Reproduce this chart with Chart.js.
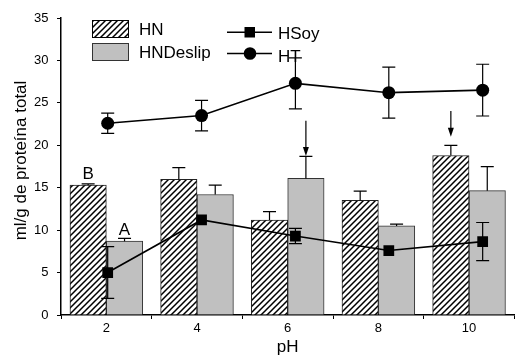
<!DOCTYPE html>
<html><head><meta charset="utf-8">
<script src="https://cdn.jsdelivr.net/npm/chart.js@4/dist/chart.umd.min.js"></script>
<style>html,body{margin:0;padding:0;background:#fff}#wrap{width:522px;height:358px}</style>
</head><body><div id="wrap"><canvas id="c" width="522" height="358"></canvas></div>
<script>
// ---- data ----
const categories = ['2', '4', '6', '8', '10'];
const hnValues = [15.3, 16.0, 11.2, 13.5, 18.8];
const hnErrors = [0.15, 1.37, 0.98, 1.1, 1.18];
const hnDeslipValues = [8.7, 14.2, 16.1, 10.5, 14.65];
const hnDeslipErrors = [0.32, 1.1, 2.6, 0.2, 2.83];
const linePositions = [2.03, 4.1, 6.17, 8.23, 10.3];
const hSoyValues = [5.0, 11.2, 9.3, 7.6, 8.65];
const hSoyErrors = [3.05, 0, 0.9, 0, 2.25];
const htValues = [22.6, 23.5, 27.3, 26.2, 26.5];
const htErrors = [1.2, 1.8, 3.0, 3.0, 3.05];
const yMin = 0, yMax = 35, yStep = 5;
const barLetters = [{series: 'HN', index: 0, text: 'B'}, {series: 'HNDeslip', index: 0, text: 'A'}];
const arrows = [{series: 'HNDeslip', index: 2, from: 22.9, to: 18.75}, {series: 'HN', index: 4, from: 24.05, to: 21.0}];

const FONT = "'Liberation Sans', Arial, sans-serif";

function makeHatch() {
  const c = document.createElement('canvas');
  c.width = 6; c.height = 6;
  const g = c.getContext('2d');
  g.fillStyle = '#fff'; g.fillRect(0, 0, 6, 6);
  g.strokeStyle = '#000'; g.lineWidth = 1.5;
  g.beginPath();
  g.moveTo(-1, 7); g.lineTo(7, -1);
  g.moveTo(-1, 1); g.lineTo(1, -1);
  g.moveTo(5, 7); g.lineTo(7, 5);
  g.stroke();
  return g.createPattern(c, 'repeat');
}
const hatch = makeHatch();

const overlay = {
  id: 'overlay',
  afterDatasetsDraw(chart) {
    const ctx = chart.ctx;
    const y = chart.scales.y;
    const byLabel = {};
    chart.data.datasets.forEach((d, i) => byLabel[d.label] = chart.getDatasetMeta(i));
    const errMap = {HN: hnErrors, HNDeslip: hnDeslipErrors, HSoy: hSoyErrors, HT: htErrors};
    const valMap = {HN: hnValues, HNDeslip: hnDeslipValues, HSoy: hSoyValues, HT: htValues};
    ctx.save();
    ctx.strokeStyle = '#000';
    ctx.fillStyle = '#000';
    ctx.lineWidth = 1.2;
    const cap = 6.5;
    ['HN', 'HNDeslip'].forEach(s => {
      byLabel[s].data.forEach((el, i) => {
        const top = y.getPixelForValue(valMap[s][i] + errMap[s][i]);
        ctx.beginPath();
        ctx.moveTo(el.x, el.y); ctx.lineTo(el.x, top);
        ctx.moveTo(el.x - cap, top); ctx.lineTo(el.x + cap, top);
        ctx.stroke();
      });
    });
    ['HSoy', 'HT'].forEach(s => {
      byLabel[s].data.forEach((el, i) => {
        const e = errMap[s][i];
        if (!e) return;
        const t = y.getPixelForValue(valMap[s][i] + e);
        const b = y.getPixelForValue(valMap[s][i] - e);
        ctx.beginPath();
        ctx.moveTo(el.x, t); ctx.lineTo(el.x, b);
        ctx.moveTo(el.x - cap, t); ctx.lineTo(el.x + cap, t);
        ctx.moveTo(el.x - cap, b); ctx.lineTo(el.x + cap, b);
        ctx.stroke();
      });
    });
    ctx.font = '17px ' + FONT;
    ctx.textAlign = 'center';
    ctx.textBaseline = 'alphabetic';
    barLetters.forEach(l => {
      const el = byLabel[l.series].data[l.index];
      ctx.fillText(l.text, el.x, el.y - 6.5);
    });
    arrows.forEach(a => {
      const el = byLabel[a.series].data[a.index];
      const y1 = y.getPixelForValue(a.from), y2 = y.getPixelForValue(a.to);
      ctx.lineWidth = 1.2;
      ctx.beginPath(); ctx.moveTo(el.x, y1); ctx.lineTo(el.x, y2 - 7); ctx.stroke();
      ctx.beginPath(); ctx.moveTo(el.x - 3, y2 - 9); ctx.lineTo(el.x + 3, y2 - 9); ctx.lineTo(el.x, y2); ctx.closePath(); ctx.fill();
    });
    // legend
    ctx.lineWidth = 1;
    ctx.strokeStyle = '#000';
    ctx.fillStyle = hatch;
    ctx.fillRect(92.5, 20.5, 36, 17);
    ctx.strokeRect(92.5, 20.5, 36, 17);
    ctx.fillStyle = '#c0c0c0';
    ctx.fillRect(92.5, 43.5, 36, 17);
    ctx.strokeStyle = '#333';
    ctx.strokeRect(92.5, 43.5, 36, 17);
    ctx.fillStyle = '#000';
    ctx.textAlign = 'left';
    ctx.fillText('HN', 139, 35);
    ctx.fillText('HNDeslip', 139, 57.5);
    ctx.fillText('HSoy', 278, 39);
    ctx.fillText('HT', 278, 61.5);
    ctx.strokeStyle = '#000';
    ctx.lineWidth = 1.6;
    ctx.beginPath(); ctx.moveTo(227, 32.3); ctx.lineTo(272, 32.3); ctx.moveTo(227, 53.5); ctx.lineTo(272, 53.5); ctx.stroke();
    ctx.fillRect(244.5, 27, 10.5, 10.5);
    ctx.beginPath(); ctx.arc(250, 53.5, 6.3, 0, Math.PI * 2); ctx.fill();
    // y title
    ctx.translate(21.5, 160.5);
    ctx.rotate(-Math.PI / 2);
    ctx.textAlign = 'center';
    ctx.textBaseline = 'middle';
    ctx.fillText('ml/g de proteína total', 0, 0);
    ctx.restore();
  }
};

const tickFont = {family: FONT, size: 13};

const chart = new Chart(document.getElementById('c'), {
  type: 'bar',
  data: {
    labels: categories,
    datasets: [
      {type: 'line', label: 'HT', xAxisID: 'xl', data: linePositions.map((x, i) => ({x, y: htValues[i]})),
       borderColor: '#000', borderWidth: 1.6, pointStyle: 'circle', pointRadius: 6.5,
       pointBackgroundColor: '#000', pointBorderColor: '#000', pointBorderWidth: 0, tension: 0, order: 0},
      {type: 'line', label: 'HSoy', xAxisID: 'xl', data: linePositions.map((x, i) => ({x, y: hSoyValues[i]})),
       borderColor: '#000', borderWidth: 1.6, pointStyle: 'rect', pointRadius: 7.6,
       pointBackgroundColor: '#000', pointBorderColor: '#000', pointBorderWidth: 0, tension: 0, order: 0},
      {type: 'bar', label: 'HN', xAxisID: 'x', data: hnValues, backgroundColor: hatch,
       borderColor: '#222', borderWidth: 1, barThickness: 36.4, order: 2},
      {type: 'bar', label: 'HNDeslip', xAxisID: 'x', data: hnDeslipValues, backgroundColor: '#c0c0c0',
       borderColor: '#333', borderWidth: 1, barThickness: 36.4, order: 2}
    ]
  },
  options: {
    responsive: false,
    animation: false,
    devicePixelRatio: 1,
    layout: {padding: {left: 0, right: 6.3, top: 18, bottom: 0}},
    plugins: {legend: {display: false}, tooltip: {enabled: false}},
    scales: {
      x: {
        type: 'category', offset: true,
        grid: {offset: true, display: true, drawOnChartArea: false, drawTicks: true, tickLength: 4, color: '#000', lineWidth: 1},
        border: {display: true, color: '#000', width: 1.5},
        ticks: {font: tickFont, color: '#000', padding: 2, maxRotation: 0},
        title: {display: true, text: 'pH', font: {family: FONT, size: 17}, color: '#000', padding: 0},
        afterFit(s) { s.height = 43; }
      },
      xl: {type: 'linear', min: 1, max: 11, offset: false, display: false},
      y: {
        min: yMin, max: yMax,
        ticks: {stepSize: yStep, font: tickFont, color: '#000', padding: 8.5},
        grid: {display: true, drawOnChartArea: false, drawTicks: true, tickLength: 4, color: '#000', lineWidth: 1},
        border: {display: true, color: '#000', width: 1.5},
        afterFit(s) { s.width = 61; }
      }
    }
  },
  plugins: [overlay]
});
</script>
</body></html>
